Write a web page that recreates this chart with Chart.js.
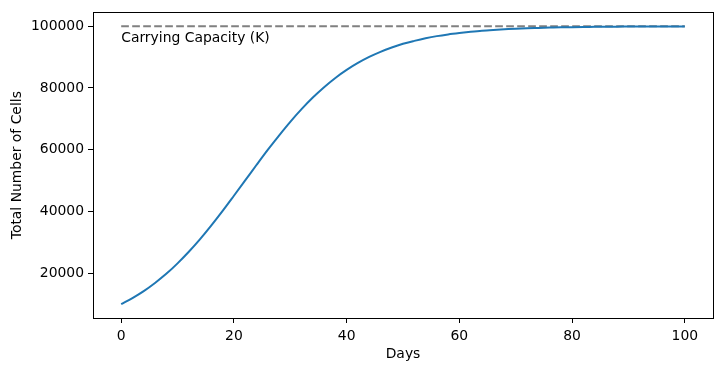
<!DOCTYPE html>
<html>
<head>
<meta charset="utf-8">
<script src="https://cdn.jsdelivr.net/npm/chart.js@4/dist/chart.umd.min.js"></script>
<style>
  html, body { margin: 0; padding: 0; background: #fff; }
  #wrap { width: 722px; height: 371px; }
</style>
</head>
<body>
<div id="wrap"><canvas id="growthChart" width="722" height="371"></canvas></div>
<script>
// Values (every 2 days)
const days = [0, 2, 4, 6, 8, 10, 12, 14, 16, 18, 20, 22, 24, 26, 28, 30, 32, 34, 36, 38,
  40, 42, 44, 46, 48, 50, 52, 54, 56, 58, 60, 62, 64, 66, 68, 70, 72, 74, 76, 78,
  80, 82, 84, 86, 88, 90, 92, 94, 96, 98, 100];
const cells = [10000, 11950, 14200, 16850, 19800, 23200, 26950, 31050, 35500, 40200,
  45100, 50050, 55050, 59950, 64600, 69050, 73150, 76900, 80250, 83250,
  85850, 88100, 90050, 91700, 93100, 94300, 95250, 96100, 96800, 97350,
  97800, 98200, 98550, 98800, 99000, 99200, 99350, 99450, 99550, 99650,
  99700, 99750, 99800, 99850, 99850, 99900, 99900, 99900, 99950, 99950, 99950];
const capacity = 100000;
const capacityLabel = 'Carrying Capacity (K)';
const xTicks = [0, 20, 40, 60, 80, 100];
const yTicks = [20000, 40000, 60000, 80000, 100000];

const font = 'DejaVu Sans';

// Frame around the plot area and the K label
const framePlugin = {
  id: 'frame',
  afterDatasetsDraw(chart) {
    const { ctx, chartArea, scales } = chart;
    ctx.save();
    ctx.fillStyle = '#000';
    ctx.font = '13.9px "' + font + '"';
    ctx.textAlign = 'left';
    ctx.textBaseline = 'alphabetic';
    ctx.fillText(capacityLabel, scales.x.getPixelForValue(0), scales.y.getPixelForValue(capacity * 0.95));
    ctx.strokeStyle = '#000';
    ctx.lineWidth = 1;
    ctx.strokeRect(Math.round(chartArea.left) + 0.5, Math.round(chartArea.top) + 0.5,
      Math.round(chartArea.right - chartArea.left), Math.round(chartArea.bottom - chartArea.top));
    ctx.restore();
  }
};

const ctx = document.getElementById('growthChart').getContext('2d');
new Chart(ctx, {
  type: 'line',
  data: {
    datasets: [
      {
        label: 'Cells',
        data: days.map((d, i) => ({ x: d, y: cells[i] })),
        borderColor: '#1f77b4',
        borderWidth: 2,
        pointRadius: 0,
        cubicInterpolationMode: 'monotone',
        order: 1
      },
      {
        label: 'K',
        data: [{ x: days[0], y: capacity }, { x: days[days.length - 1], y: capacity }],
        borderColor: '#808080',
        borderWidth: 2,
        borderDash: [7.7, 3.3],
        pointRadius: 0,
        order: 2
      }
    ]
  },
  options: {
    responsive: false,
    animation: false,
    layout: { padding: { top: 10, right: 9, left: 0, bottom: 0 } },
    plugins: { legend: { display: false }, tooltip: { enabled: false } },
    scales: {
      x: {
        type: 'linear',
        min: -5,
        max: 105,
        afterBuildTicks: s => { s.ticks = xTicks.map(v => ({ value: v })); },
        afterFit: s => { s.height = 53; },
        grid: { drawOnChartArea: false, drawTicks: true, tickLength: 5, color: '#000' },
        border: { display: false },
        ticks: { color: '#000', padding: 5, font: { family: font, size: 13.9 }, maxRotation: 0 },
        title: { display: true, text: 'Days', color: '#000', font: { family: font, size: 13.9 }, padding: { top: 0, bottom: 8 } }
      },
      y: {
        type: 'linear',
        min: 5500,
        max: 104500,
        afterBuildTicks: s => { s.ticks = yTicks.map(v => ({ value: v })); },
        afterFit: s => { s.width = 93; },
        grid: { drawOnChartArea: false, drawTicks: true, tickLength: 5, color: '#000' },
        border: { display: false },
        ticks: { color: '#000', padding: 4, font: { family: font, size: 13.9 }, callback: v => String(v) },
        title: { display: true, text: 'Total Number of Cells', color: '#000', font: { family: font, size: 13.9 }, padding: { top: 9, bottom: 0 } }
      }
    }
  },
  plugins: [framePlugin]
});
</script>
</body>
</html>
